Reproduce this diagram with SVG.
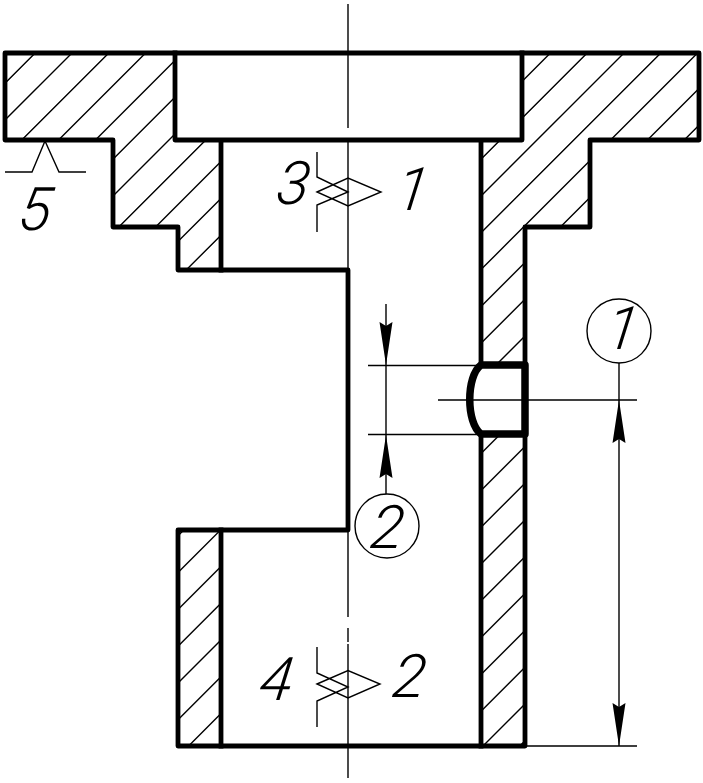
<svg xmlns="http://www.w3.org/2000/svg" width="703" height="783" viewBox="0 0 703 783">
<style>
.o{fill:none;stroke:#000;stroke-width:4.800;stroke-linejoin:round;stroke-linecap:square}
.t{fill:none;stroke:#000;stroke-width:1.400}
.a{fill:#000;stroke:none}
.n{font-family:"Roboto","Liberation Sans",sans-serif;font-style:italic;font-weight:300;font-size:60px;fill:#000;text-anchor:middle}
</style>
<defs>
<clipPath id="hc"><path d="M5 53H175V140H221V270H178V227H113V140H5ZM178 530H221V746H178ZM522 53H699V140H590V227H525V746H481V140H522Z"/></clipPath>
<path id="ar" d="M0 0L-6.500 -43L0 -39L6.500 -43Z"/>
</defs>
<rect width="703" height="783" fill="#fff"/>
<g id="hatching" clip-path="url(#hc)">
<path class="t" d="M0 88.200L88.200 0M0 125L125 0M0 161.800L161.800 0M0 198.600L198.600 0M0 235.400L235.400 0M0 272.200L272.200 0M0 309L309 0M0 345.800L345.800 0M0 382.600L382.600 0M0 419.400L419.400 0M0 456.200L456.200 0M0 493L493 0M0 529.800L529.800 0M0 566.600L566.600 0M0 603.400L603.400 0M0 640.200L640.200 0M0 677L677 0M0 713.800L713.800 0M0 750.600L750.600 0M0 787.400L787.400 0M0 824.200L824.200 0M0 861L861 0M0 897.800L897.800 0M0 934.600L934.600 0M0 971.400L971.400 0M0 1008.200L1008.200 0M0 1045L1045 0M0 1081.800L1081.800 0M0 1118.600L1118.600 0M0 1155.400L1155.400 0M0 1192.200L1192.200 0M0 1229L1229 0M0 1265.800L1265.800 0"/>
</g>
<g id="part">
<path class="o" d="M5 53H699V140H590V227H525V746H178V530H348V270H178V227H113V140H5Z"/>
<path class="o" d="M175 53V140H522V53M221 140V270M221 530V746M481 140V746"/>
</g>
<g id="hole">
<path d="M481 365H525V434H481C466 423 466 376 481 365Z" fill="#fff" stroke="#000" stroke-width="7.500" stroke-linejoin="round"/>
</g>
<g id="centerline">
<path class="t" d="M348 4V128M348 140V617M348 628V642M348 644V778"/>
</g>
<g id="dimensions">
<path class="t" d="M368 365.500H478M368 434.500H478M386 304V494M438 400H637M619 363V746M527 746H637"/>
<use href="#ar" transform="translate(386 365)" class="a"/>
<use href="#ar" transform="translate(386 435) rotate(180)" class="a"/>
<use href="#ar" transform="translate(619 400) rotate(180)" class="a"/>
<use href="#ar" transform="translate(619 746)" class="a"/>
</g>
<g id="balloon-1"><circle class="t" cx="619" cy="331" r="32"/><text class="n" transform="translate(620 349) skewX(-8)">1</text></g>
<g id="balloon-2"><circle class="t" cx="387" cy="526" r="32"/><text class="n" transform="translate(385 548) skewX(-8)">2</text></g>
<g id="surface-5">
<path class="t" d="M5 172H32L45 141L59 172H86"/>
<text class="n" transform="translate(33 230) skewX(-8)">5</text>
</g>
<g id="weld-3-1">
<path class="t" d="M317 152V177L348 192L317 205V232M317 192L348 178L381 192L348 206Z"/>
<text class="n" transform="translate(291 204) skewX(-8)">3</text>
<text class="n" transform="translate(410 210) skewX(-8)">1</text>
</g>
<g id="weld-4-2">
<path class="t" d="M317 647V673L348 687L317 701V727M317 684L348 670.500L380 684L348 698Z"/>
<text class="n" transform="translate(274 700) skewX(-8)">4</text>
<text class="n" transform="translate(407 697) skewX(-8)">2</text>
</g>
</svg>
